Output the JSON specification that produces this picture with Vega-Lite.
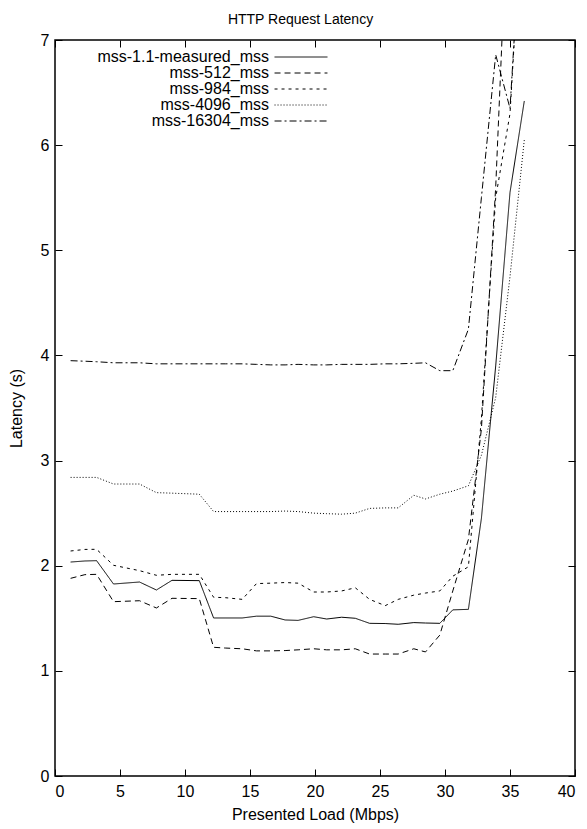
{
  "$schema": "https://vega.github.io/schema/vega-lite/v6.json",
  "width": 520,
  "height": 736,
  "autosize": "none",
  "padding": {"left": 55, "top": 40, "right": 12, "bottom": 53},
  "background": "white",
  "config": {
    "view": {"stroke": "black", "strokeWidth": 1.5},
    "axis": {"grid": false, "domain": false, "tickColor": "black", "tickWidth": 1, "tickSize": -7, "labelFont": "Liberation Sans", "labelFontSize": 16, "labelColor": "black", "titleFont": "Liberation Sans", "titleFontSize": 16, "titleFontWeight": "normal", "titleColor": "black"}
  },
  "datasets": {
    "lat": [
      {"series": "mss-1.1-measured_mss", "load": 1.2, "latency": 2.035},
      {"series": "mss-1.1-measured_mss", "load": 2.3, "latency": 2.045},
      {"series": "mss-1.1-measured_mss", "load": 3.2, "latency": 2.048},
      {"series": "mss-1.1-measured_mss", "load": 4.5, "latency": 1.826},
      {"series": "mss-1.1-measured_mss", "load": 6.5, "latency": 1.845},
      {"series": "mss-1.1-measured_mss", "load": 7.8, "latency": 1.769},
      {"series": "mss-1.1-measured_mss", "load": 9.0, "latency": 1.861},
      {"series": "mss-1.1-measured_mss", "load": 11.1, "latency": 1.858},
      {"series": "mss-1.1-measured_mss", "load": 12.2, "latency": 1.503},
      {"series": "mss-1.1-measured_mss", "load": 13.1, "latency": 1.503},
      {"series": "mss-1.1-measured_mss", "load": 14.4, "latency": 1.503},
      {"series": "mss-1.1-measured_mss", "load": 15.5, "latency": 1.52},
      {"series": "mss-1.1-measured_mss", "load": 16.6, "latency": 1.52},
      {"series": "mss-1.1-measured_mss", "load": 17.7, "latency": 1.484},
      {"series": "mss-1.1-measured_mss", "load": 18.7, "latency": 1.48},
      {"series": "mss-1.1-measured_mss", "load": 19.9, "latency": 1.515},
      {"series": "mss-1.1-measured_mss", "load": 20.9, "latency": 1.493},
      {"series": "mss-1.1-measured_mss", "load": 22.05, "latency": 1.51},
      {"series": "mss-1.1-measured_mss", "load": 23.1, "latency": 1.5},
      {"series": "mss-1.1-measured_mss", "load": 24.2, "latency": 1.452},
      {"series": "mss-1.1-measured_mss", "load": 25.4, "latency": 1.45},
      {"series": "mss-1.1-measured_mss", "load": 26.4, "latency": 1.443},
      {"series": "mss-1.1-measured_mss", "load": 27.6, "latency": 1.459},
      {"series": "mss-1.1-measured_mss", "load": 28.5, "latency": 1.455},
      {"series": "mss-1.1-measured_mss", "load": 29.6, "latency": 1.452},
      {"series": "mss-1.1-measured_mss", "load": 30.6, "latency": 1.58},
      {"series": "mss-1.1-measured_mss", "load": 31.8, "latency": 1.585},
      {"series": "mss-1.1-measured_mss", "load": 32.8, "latency": 2.45},
      {"series": "mss-1.1-measured_mss", "load": 33.9, "latency": 3.9},
      {"series": "mss-1.1-measured_mss", "load": 35.0, "latency": 5.55},
      {"series": "mss-1.1-measured_mss", "load": 36.1, "latency": 6.42},

      {"series": "mss-512_mss", "load": 1.2, "latency": 1.88},
      {"series": "mss-512_mss", "load": 2.3, "latency": 1.915},
      {"series": "mss-512_mss", "load": 3.2, "latency": 1.918},
      {"series": "mss-512_mss", "load": 4.5, "latency": 1.658},
      {"series": "mss-512_mss", "load": 6.5, "latency": 1.667},
      {"series": "mss-512_mss", "load": 7.8, "latency": 1.598},
      {"series": "mss-512_mss", "load": 9.0, "latency": 1.69},
      {"series": "mss-512_mss", "load": 11.1, "latency": 1.687},
      {"series": "mss-512_mss", "load": 12.2, "latency": 1.224},
      {"series": "mss-512_mss", "load": 13.1, "latency": 1.217},
      {"series": "mss-512_mss", "load": 14.4, "latency": 1.21},
      {"series": "mss-512_mss", "load": 15.5, "latency": 1.19},
      {"series": "mss-512_mss", "load": 16.6, "latency": 1.19},
      {"series": "mss-512_mss", "load": 17.7, "latency": 1.193},
      {"series": "mss-512_mss", "load": 18.7, "latency": 1.2},
      {"series": "mss-512_mss", "load": 19.9, "latency": 1.21},
      {"series": "mss-512_mss", "load": 20.9, "latency": 1.2},
      {"series": "mss-512_mss", "load": 22.05, "latency": 1.2},
      {"series": "mss-512_mss", "load": 23.1, "latency": 1.21},
      {"series": "mss-512_mss", "load": 24.2, "latency": 1.16},
      {"series": "mss-512_mss", "load": 25.4, "latency": 1.16},
      {"series": "mss-512_mss", "load": 26.4, "latency": 1.16},
      {"series": "mss-512_mss", "load": 27.6, "latency": 1.21},
      {"series": "mss-512_mss", "load": 28.5, "latency": 1.18},
      {"series": "mss-512_mss", "load": 29.6, "latency": 1.34},
      {"series": "mss-512_mss", "load": 30.6, "latency": 1.76},
      {"series": "mss-512_mss", "load": 31.8, "latency": 2.25},
      {"series": "mss-512_mss", "load": 32.8, "latency": 3.3},
      {"series": "mss-512_mss", "load": 33.9, "latency": 5.6},
      {"series": "mss-512_mss", "load": 35.0, "latency": 8.8},
      {"series": "mss-512_mss", "load": 36.1, "latency": 10.0},

      {"series": "mss-984_mss", "load": 1.2, "latency": 2.14},
      {"series": "mss-984_mss", "load": 2.3, "latency": 2.155},
      {"series": "mss-984_mss", "load": 3.2, "latency": 2.156},
      {"series": "mss-984_mss", "load": 4.5, "latency": 2.004},
      {"series": "mss-984_mss", "load": 6.5, "latency": 1.953},
      {"series": "mss-984_mss", "load": 7.8, "latency": 1.909},
      {"series": "mss-984_mss", "load": 9.0, "latency": 1.918},
      {"series": "mss-984_mss", "load": 11.1, "latency": 1.918},
      {"series": "mss-984_mss", "load": 12.2, "latency": 1.7},
      {"series": "mss-984_mss", "load": 13.1, "latency": 1.696},
      {"series": "mss-984_mss", "load": 14.4, "latency": 1.68},
      {"series": "mss-984_mss", "load": 15.5, "latency": 1.83},
      {"series": "mss-984_mss", "load": 16.6, "latency": 1.834},
      {"series": "mss-984_mss", "load": 17.7, "latency": 1.84},
      {"series": "mss-984_mss", "load": 18.7, "latency": 1.834},
      {"series": "mss-984_mss", "load": 19.9, "latency": 1.75},
      {"series": "mss-984_mss", "load": 20.9, "latency": 1.75},
      {"series": "mss-984_mss", "load": 22.05, "latency": 1.76},
      {"series": "mss-984_mss", "load": 23.1, "latency": 1.79},
      {"series": "mss-984_mss", "load": 24.2, "latency": 1.68},
      {"series": "mss-984_mss", "load": 25.4, "latency": 1.62},
      {"series": "mss-984_mss", "load": 26.4, "latency": 1.68},
      {"series": "mss-984_mss", "load": 27.6, "latency": 1.72},
      {"series": "mss-984_mss", "load": 28.5, "latency": 1.74},
      {"series": "mss-984_mss", "load": 29.6, "latency": 1.76},
      {"series": "mss-984_mss", "load": 30.6, "latency": 1.9},
      {"series": "mss-984_mss", "load": 31.8, "latency": 1.99},
      {"series": "mss-984_mss", "load": 32.8, "latency": 3.4},
      {"series": "mss-984_mss", "load": 33.9, "latency": 5.5},
      {"series": "mss-984_mss", "load": 35.0, "latency": 6.3},
      {"series": "mss-984_mss", "load": 36.1, "latency": 8.6},

      {"series": "mss-4096_mss", "load": 1.2, "latency": 2.84},
      {"series": "mss-4096_mss", "load": 2.3, "latency": 2.84},
      {"series": "mss-4096_mss", "load": 3.2, "latency": 2.84},
      {"series": "mss-4096_mss", "load": 4.5, "latency": 2.777},
      {"series": "mss-4096_mss", "load": 6.5, "latency": 2.777},
      {"series": "mss-4096_mss", "load": 7.8, "latency": 2.695},
      {"series": "mss-4096_mss", "load": 9.0, "latency": 2.69},
      {"series": "mss-4096_mss", "load": 11.1, "latency": 2.68},
      {"series": "mss-4096_mss", "load": 12.2, "latency": 2.515},
      {"series": "mss-4096_mss", "load": 13.1, "latency": 2.515},
      {"series": "mss-4096_mss", "load": 14.4, "latency": 2.515},
      {"series": "mss-4096_mss", "load": 15.5, "latency": 2.515},
      {"series": "mss-4096_mss", "load": 16.6, "latency": 2.515},
      {"series": "mss-4096_mss", "load": 17.7, "latency": 2.52},
      {"series": "mss-4096_mss", "load": 18.7, "latency": 2.515},
      {"series": "mss-4096_mss", "load": 19.9, "latency": 2.5},
      {"series": "mss-4096_mss", "load": 20.9, "latency": 2.495},
      {"series": "mss-4096_mss", "load": 22.05, "latency": 2.49},
      {"series": "mss-4096_mss", "load": 23.1, "latency": 2.5},
      {"series": "mss-4096_mss", "load": 24.2, "latency": 2.545},
      {"series": "mss-4096_mss", "load": 25.4, "latency": 2.55},
      {"series": "mss-4096_mss", "load": 26.4, "latency": 2.55},
      {"series": "mss-4096_mss", "load": 27.6, "latency": 2.67},
      {"series": "mss-4096_mss", "load": 28.5, "latency": 2.635},
      {"series": "mss-4096_mss", "load": 29.6, "latency": 2.68},
      {"series": "mss-4096_mss", "load": 30.6, "latency": 2.71},
      {"series": "mss-4096_mss", "load": 31.8, "latency": 2.76},
      {"series": "mss-4096_mss", "load": 32.8, "latency": 3.05},
      {"series": "mss-4096_mss", "load": 33.9, "latency": 3.6},
      {"series": "mss-4096_mss", "load": 35.0, "latency": 4.75},
      {"series": "mss-4096_mss", "load": 36.1, "latency": 6.05},

      {"series": "mss-16304_mss", "load": 1.2, "latency": 3.95},
      {"series": "mss-16304_mss", "load": 2.3, "latency": 3.945},
      {"series": "mss-16304_mss", "load": 3.2, "latency": 3.94},
      {"series": "mss-16304_mss", "load": 4.5, "latency": 3.93},
      {"series": "mss-16304_mss", "load": 6.5, "latency": 3.93},
      {"series": "mss-16304_mss", "load": 7.8, "latency": 3.92},
      {"series": "mss-16304_mss", "load": 9.0, "latency": 3.92},
      {"series": "mss-16304_mss", "load": 11.1, "latency": 3.92},
      {"series": "mss-16304_mss", "load": 12.2, "latency": 3.92},
      {"series": "mss-16304_mss", "load": 13.1, "latency": 3.92},
      {"series": "mss-16304_mss", "load": 14.4, "latency": 3.92},
      {"series": "mss-16304_mss", "load": 15.5, "latency": 3.915},
      {"series": "mss-16304_mss", "load": 16.6, "latency": 3.91},
      {"series": "mss-16304_mss", "load": 17.7, "latency": 3.91},
      {"series": "mss-16304_mss", "load": 18.7, "latency": 3.915},
      {"series": "mss-16304_mss", "load": 19.9, "latency": 3.91},
      {"series": "mss-16304_mss", "load": 20.9, "latency": 3.91},
      {"series": "mss-16304_mss", "load": 22.05, "latency": 3.915},
      {"series": "mss-16304_mss", "load": 23.1, "latency": 3.915},
      {"series": "mss-16304_mss", "load": 24.2, "latency": 3.915},
      {"series": "mss-16304_mss", "load": 25.4, "latency": 3.92},
      {"series": "mss-16304_mss", "load": 26.4, "latency": 3.92},
      {"series": "mss-16304_mss", "load": 27.6, "latency": 3.925},
      {"series": "mss-16304_mss", "load": 28.5, "latency": 3.93},
      {"series": "mss-16304_mss", "load": 29.6, "latency": 3.855},
      {"series": "mss-16304_mss", "load": 30.6, "latency": 3.855},
      {"series": "mss-16304_mss", "load": 31.8, "latency": 4.25},
      {"series": "mss-16304_mss", "load": 32.8, "latency": 5.5},
      {"series": "mss-16304_mss", "load": 33.9, "latency": 6.86},
      {"series": "mss-16304_mss", "load": 35.0, "latency": 6.35},
      {"series": "mss-16304_mss", "load": 36.1, "latency": 8.6}
    ]
  },
  "data": {"name": "lat"},
  "layer": [
    {
      "mark": {"type": "line", "color": "black", "strokeWidth": 1, "clip": true},
      "encoding": {
        "x": {"field": "load", "type": "quantitative", "scale": {"domain": [0, 40], "nice": false}, "axis": {"title": "Presented Load (Mbps)", "values": [0, 5, 10, 15, 20, 25, 30, 35, 40], "labelPadding": 14, "titlePadding": 7}},
        "y": {"field": "latency", "type": "quantitative", "scale": {"domain": [0, 7], "nice": false}, "axis": {"title": "Latency (s)", "values": [0, 1, 2, 3, 4, 5, 6, 7], "labelPadding": 13, "titlePadding": 16}},
        "strokeDash": {
          "field": "series", "type": "nominal",
          "scale": {"domain": ["mss-1.1-measured_mss", "mss-512_mss", "mss-984_mss", "mss-4096_mss", "mss-16304_mss"], "range": [[1, 0], [6, 4], [3, 4], [1, 2], [7, 3, 2, 3]]},
          "legend": {"title": null, "orient": "none", "legendX": 238, "legendY": 9, "symbolType": "M-4,0H4", "symbolSize": 175, "symbolStrokeColor": "black", "symbolFillColor": "transparent", "symbolStrokeWidth": 1, "labelFont": "Liberation Sans", "labelFontSize": 16, "labelColor": "black", "labelAlign": "right", "labelOffset": -40, "rowPadding": 0, "labelLimit": 400}
        }
      }
    },
    {
      "mark": {"type": "line", "opacity": 0},
      "encoding": {
        "x": {"field": "load", "type": "quantitative", "scale": {"domain": [0, 40], "nice": false}, "axis": {"orient": "top", "title": "HTTP Request Latency", "titleFontSize": 14, "titlePadding": 13, "titleX": 245, "titleAlign": "center", "labels": false, "labelPadding": 0, "values": [0, 5, 10, 15, 20, 25, 30, 35, 40]}},
        "y": {"field": "latency", "type": "quantitative", "scale": {"domain": [0, 7], "nice": false}, "axis": {"orient": "right", "title": null, "labels": false, "values": [0, 1, 2, 3, 4, 5, 6, 7]}},
        "detail": {"field": "series"}
      }
    }
  ],
  "resolve": {"axis": {"x": "independent", "y": "independent"}}
}
